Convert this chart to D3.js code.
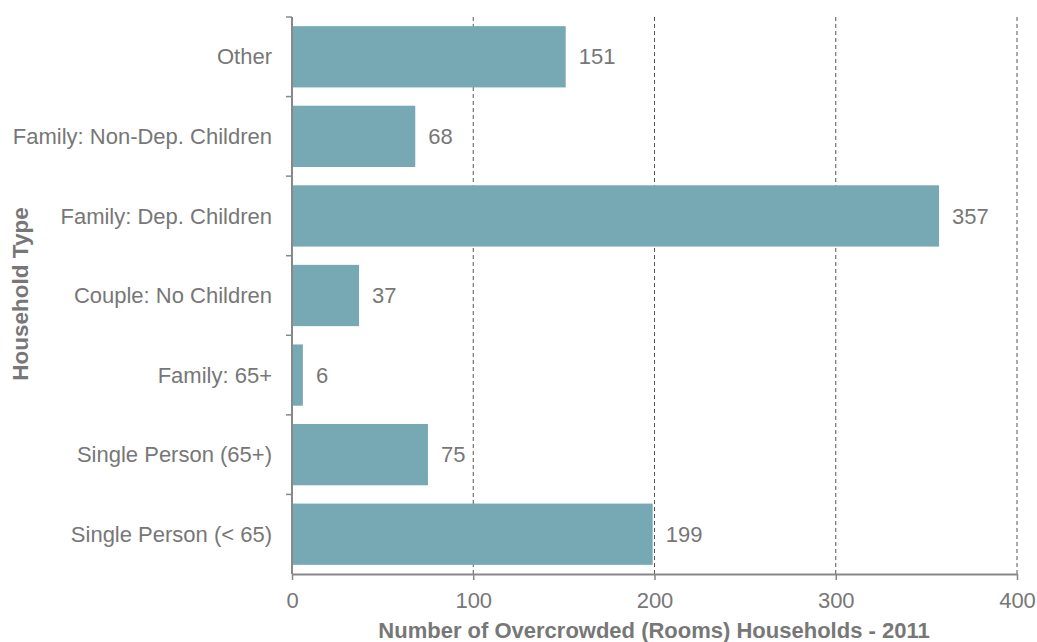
<!DOCTYPE html>
<html lang="en">
<head>
<meta charset="UTF-8">
<title>Overcrowded Households</title>
<style>
  body { margin: 0; background: #fff; }
  svg { font-family: "Liberation Sans", Arial, sans-serif; }
</style>
</head>
<body>
<svg width="1037" height="642"></svg>
<script src="https://d3js.org/d3.v7.min.js"></script>
<script>
const categories = ["Other", "Family: Non-Dep. Children", "Family: Dep. Children",
  "Couple: No Children", "Family: 65+", "Single Person (65+)", "Single Person (< 65)"];
const values = [151, 68, 357, 37, 6, 75, 199];
const xTicks = [0, 100, 200, 300, 400];

const svg = d3.select("svg");
const margin = {top: 17, right: 20, bottom: 68, left: 292};
const grey = "#777";
const fs = "22px";

const g = svg.append("g").attr("transform", `translate(${margin.left},${margin.top})`);

const x = d3.scaleLinear().domain([0, 400]).range([0, 725]);
const y = d3.scaleBand().domain(categories).range([0, 557]).paddingInner(0.23).paddingOuter(0.115);

// dashed grid
g.selectAll(".grid").data(xTicks.slice(1)).join("line")
  .attr("x1", d => x(d)).attr("x2", d => x(d))
  .attr("y1", 0).attr("y2", 557)
  .attr("stroke", "#555").attr("stroke-width", 1)
  .attr("stroke-dasharray", "4,3");

// bars
g.selectAll(".bar").data(values).join("rect")
  .attr("x", 0)
  .attr("y", (d, i) => y(categories[i]))
  .attr("width", d => x(d))
  .attr("height", y.bandwidth())
  .attr("fill", "#76a9b3");

// value labels
g.selectAll(".val").data(values).join("text")
  .attr("x", d => x(d) + 13)
  .attr("y", (d, i) => y(categories[i]) + y.bandwidth() / 2)
  .attr("dy", "0.35em")
  .attr("fill", grey)
  .style("font-size", fs)
  .text(d => d);

// y axis: ticks at band boundaries
const step = 557 / categories.length;
const yAxis = g.append("g");
yAxis.append("line").attr("x1", 0).attr("x2", 0).attr("y1", 0).attr("y2", 557)
  .attr("stroke", "#888").attr("stroke-width", 2);
yAxis.selectAll(".ytick").data(d3.range(categories.length)).join("line")
  .attr("x1", -6).attr("x2", 0)
  .attr("y1", d => d * step).attr("y2", d => d * step)
  .attr("stroke", "#888").attr("stroke-width", 1.5);
yAxis.selectAll(".ylab").data(categories).join("text")
  .attr("x", -20)
  .attr("y", d => y(d) + y.bandwidth() / 2)
  .attr("dy", "0.35em")
  .attr("text-anchor", "end")
  .attr("fill", grey)
  .style("font-size", fs)
  .text(d => d);

// x axis
const xAxis = g.append("g").attr("transform", "translate(0,557)")
  .call(d3.axisBottom(x).tickValues(xTicks).tickSize(6).tickSizeOuter(0).tickPadding(12));
xAxis.select(".domain").attr("stroke", "#888").attr("stroke-width", 2);
xAxis.selectAll(".tick line").attr("stroke", "#888").attr("stroke-width", 1.5);
xAxis.selectAll(".tick text").attr("fill", grey).style("font-size", fs)
  .style("font-family", "'Liberation Sans', Arial, sans-serif");

// axis titles
svg.append("text")
  .attr("x", 654)
  .attr("y", 638)
  .attr("text-anchor", "middle")
  .attr("fill", grey)
  .style("font-size", "22px").style("font-weight", "bold")
  .text("Number of Overcrowded (Rooms) Households - 2011");

svg.append("text")
  .attr("transform", `translate(28,294) rotate(-90)`)
  .attr("text-anchor", "middle")
  .attr("fill", grey)
  .style("font-size", "22.5px").style("font-weight", "bold")
  .text("Household Type");
</script>
</body>
</html>
